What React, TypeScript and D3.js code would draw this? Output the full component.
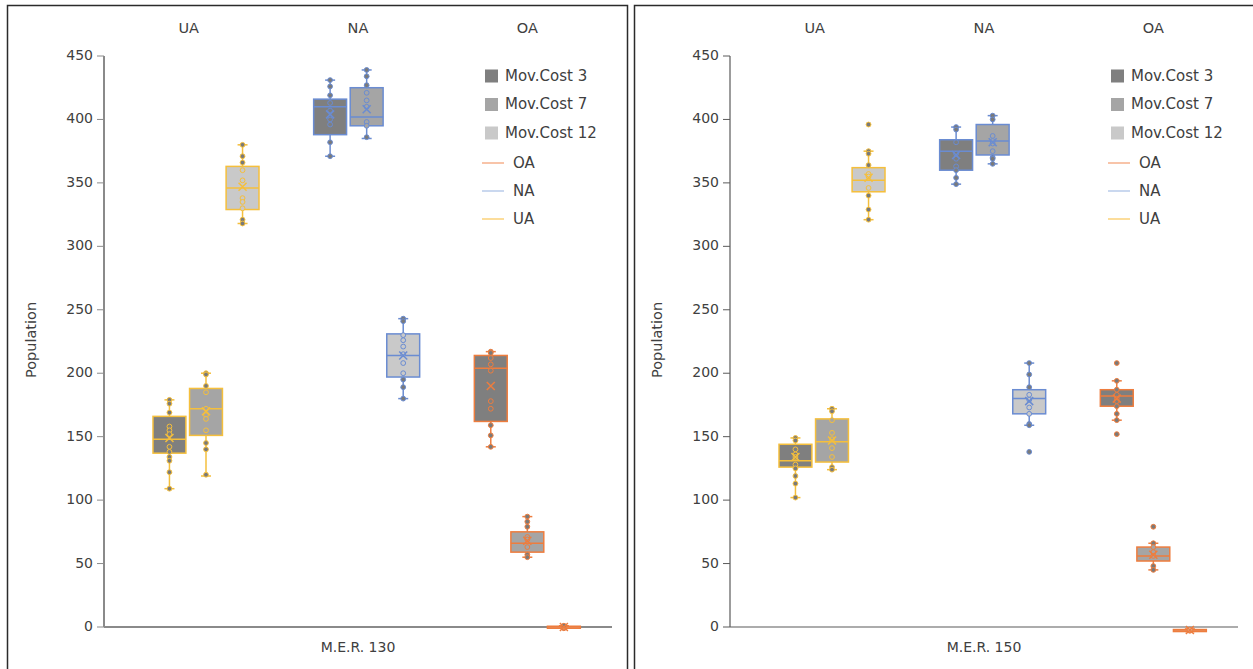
import * as d3 from "d3"
import React from "react"

const groups = ["UA", "NA", "OA"]
const costs = ["Mov.Cost 3", "Mov.Cost 7", "Mov.Cost 12"]
const panelTitles = ["M.E.R. 130", "M.E.R. 150"]
const yTicks = [0, 50, 100, 150, 200, 250, 300, 350, 400, 450]

// box stats per series: [min, q1, median, q3, max, mean]
// order: UA 3/7/12, NA 3/7/12, OA 3/7/12
const mer130Stats = [
    [109, 137, 148, 166, 179, 149],
    [119, 151, 172, 188, 200, 170],
    [318, 329, 346, 363, 380, 347],
    [371, 388, 410, 416, 431, 404],
    [385, 395, 402, 425, 439, 408],
    [180, 197, 214, 231, 243, 214],
    [142, 162, 204, 214, 217, 190],
    [55, 59, 66, 75, 87, 68],
    [-1, -0.6, 0, 0.6, 1, 0],
]
const mer130Points = [
    [179, 176, 169, 158, 155, 152, 142, 138, 134, 131, 122, 109],
    [200, 199, 190, 185, 172, 167, 164, 155, 145, 140, 120],
    [380, 371, 366, 360, 352, 338, 335, 330, 321, 318],
    [431, 426, 419, 413, 407, 400, 396, 382, 371],
    [439, 434, 427, 421, 415, 410, 398, 395, 386],
    [243, 241, 230, 226, 221, 215, 208, 200, 195, 189, 180],
    [217, 216, 212, 207, 202, 178, 172, 159, 151, 142],
    [87, 83, 79, 71, 69, 63, 57, 55],
    [-1, 0, 0, 1],
]
const mer130Outliers = [[], [], [], [], [], [], [], [], []]

const mer150Stats = [
    [102, 126, 131, 144, 149, 134],
    [124, 130, 146, 164, 172, 147],
    [321, 343, 352, 362, 375, 354],
    [349, 360, 375, 384, 394, 372],
    [365, 372, 383, 396, 403, 382],
    [159, 168, 180, 187, 208, 178],
    [163, 174, 182, 187, 194, 180],
    [45, 52, 56, 63, 66, 57],
    [-3.5, -3, -2.4, -2, -1.5, -2.4],
]
const mer150Points = [
    [149, 147, 140, 136, 134, 128, 125, 119, 113, 102],
    [172, 170, 163, 153, 148, 141, 134, 126, 124],
    [375, 373, 364, 357, 355, 346, 340, 329, 321],
    [394, 392, 382, 373, 369, 363, 360, 354, 349],
    [403, 400, 387, 383, 381, 375, 370, 369, 365],
    [208, 199, 189, 183, 179, 173, 168, 160, 159],
    [194, 187, 183, 180, 178, 174, 168, 163],
    [66, 63, 59, 56, 48, 45],
    [-3, -2.5, -2],
]
const mer150Outliers = [[], [], [396], [], [], [138], [208, 152], [79], []]

const costFill = ["#7f7f7f", "#a5a5a5", "#c9c9c9"]
const groupStroke = { UA: "#f5bf3c", NA: "#6a8cd2", OA: "#ee7d3e" }
const legendLine = { OA: "#f6b08c", NA: "#b9cbea", UA: "#fbd27a" }
const dotFill = "#7a7a7a"
const textColor = "#404040"
const font = "DejaVu Sans"

const y = d3.scaleLinear().domain([0, 450]).range([627, 56])

const Panel = ({ x0, x1, left, title, stats, points, outliers, axisColor, axisWidth }) => {
    const header = d3.scalePoint().domain(groups).range([x0, x1]).padding(0.5)
    const outer = d3.scaleBand().domain(groups).range([x0 + 22, x0 + 504])
    const inner = d3.scaleBand().domain(costs).range([27, 133]).paddingInner(0.1)
    const bw = inner.bandwidth()
    const boxes = []
    groups.forEach((g, gi) => {
        costs.forEach((c, ci) => {
            const i = gi * 3 + ci
            const [mn, q1, med, q3, mx, mean] = stats[i]
            const cx = outer(g) + inner(c) + bw / 2
            const stroke = groupStroke[g]
            boxes.push(
                <g key={i}>
                    <line x1={cx} x2={cx} y1={y(mx)} y2={y(q3)} stroke={stroke} strokeWidth={1.5} />
                    <line x1={cx} x2={cx} y1={y(q1)} y2={y(mn)} stroke={stroke} strokeWidth={1.5} />
                    <line x1={cx - 5} x2={cx + 5} y1={y(mx)} y2={y(mx)} stroke={stroke} strokeWidth={1.5} />
                    <line x1={cx - 5} x2={cx + 5} y1={y(mn)} y2={y(mn)} stroke={stroke} strokeWidth={1.5} />
                    <rect x={cx - bw / 2} width={bw} y={y(q3)} height={Math.max(2, y(q1) - y(q3))}
                        fill={costFill[ci]} stroke={stroke} strokeWidth={1.5} />
                    <line x1={cx - bw / 2} x2={cx + bw / 2} y1={y(med)} y2={y(med)} stroke={stroke} strokeWidth={1.5} />
                    {points[i].concat(outliers[i]).map((v, k) => (
                        <circle key={k} cx={cx} cy={y(v)} r={2.4}
                            fill={v > q3 || v < q1 ? dotFill : costFill[ci]} stroke={stroke} strokeWidth={1} />
                    ))}
                    <path d={`M${cx - 4},${y(mean) - 4}L${cx + 4},${y(mean) + 4}M${cx - 4},${y(mean) + 4}L${cx + 4},${y(mean) - 4}`}
                        stroke={stroke} strokeWidth={1.5} fill="none" />
                </g>
            )
        })
    })
    const legendRows = [0, 1, 2].map((k) => 76 + k * 28.5)
    const lineRows = ["OA", "NA", "UA"]
    return (
        <g>
            <rect x={left} y={5.5} width={620} height={720} fill="none" stroke="#2b2b2b" strokeWidth={1.5} />
            {groups.map((g) => (
                <text key={g} x={header(g)} y={29} textAnchor="middle" dominantBaseline="middle"
                    fontSize={14.5} fill={textColor}>{g}</text>
            ))}
            {yTicks.map((t) => (
                <g key={t}>
                    <line x1={x0 - 7} x2={x0} y1={y(t)} y2={y(t)} stroke={axisColor} strokeWidth={1} />
                    <text x={x0 - 11} y={y(t)} textAnchor="end" dominantBaseline="middle"
                        fontSize={14} fill={textColor}>{t}</text>
                </g>
            ))}
            <line x1={x0} x2={x0} y1={y(450)} y2={y(0)} stroke={axisColor} strokeWidth={axisWidth} />
            <line x1={x0} x2={x1} y1={y(0)} y2={y(0)} stroke={axisColor} strokeWidth={axisWidth} />
            <text transform={`translate(${x0 - 72},340) rotate(-90)`} textAnchor="middle" dominantBaseline="middle"
                fontSize={14.5} fill={textColor}>Population</text>
            <text x={(x0 + x1) / 2} y={648} textAnchor="middle" dominantBaseline="middle"
                fontSize={14} fill={textColor}>{title}</text>
            {boxes}
            {costs.map((c, k) => (
                <g key={c}>
                    <rect x={x0 + 381} y={legendRows[k] - 6.5} width={13} height={13} fill={costFill[k]} />
                    <text x={x0 + 401} y={legendRows[k]} dominantBaseline="middle" fontSize={15} fill={textColor}>{c}</text>
                </g>
            ))}
            {lineRows.map((g, k) => (
                <g key={g}>
                    <line x1={x0 + 378} x2={x0 + 400} y1={163 + k * 28} y2={163 + k * 28} stroke={legendLine[g]} strokeWidth={1.5} />
                    <text x={x0 + 409} y={163 + k * 28} dominantBaseline="middle" fontSize={15} fill={textColor}>{g}</text>
                </g>
            ))}
        </g>
    )
}

export default function App() {
    return (
        <svg width={1253} height={669} style={{ position: "absolute", left: 0, top: 0, background: "#fff" }}
            fontFamily={font}>
            <Panel x0={104} x1={612} left={7.5} title={panelTitles[0]} stats={mer130Stats}
                points={mer130Points} outliers={mer130Outliers} axisColor="#8a8a8a" axisWidth={2} />
            <Panel x0={730} x1={1238} left={634.5} title={panelTitles[1]} stats={mer150Stats}
                points={mer150Points} outliers={mer150Outliers} axisColor="#5a5a5a" axisWidth={1.2} />
        </svg>
    )
}
